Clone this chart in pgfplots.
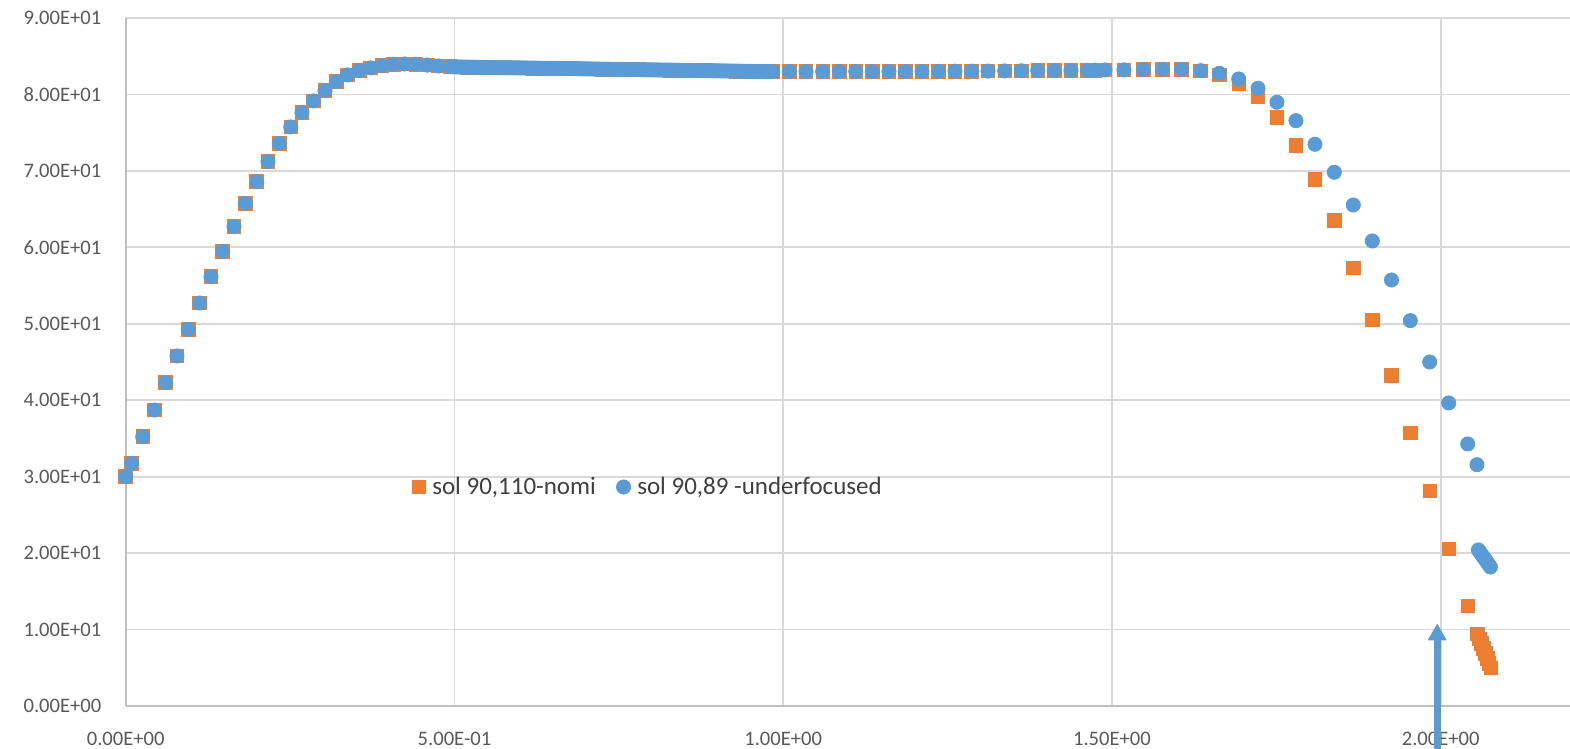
\documentclass[border=0pt]{standalone}
\usepackage{pgfplots}
\pgfplotsset{compat=1.18}
\usepackage{pgfplotstable}
\usepackage{fontspec}
\setmainfont{Carlito}
\usetikzlibrary{arrows.meta}
\definecolor{xlorange}{HTML}{ED7D31}
\definecolor{xlblue}{HTML}{5B9BD5}
\definecolor{xlgrid}{HTML}{D9D9D9}
\definecolor{xlaxis}{HTML}{BFBFBF}
\definecolor{xltext}{HTML}{595959}
\definecolor{xllegend}{HTML}{404040}

% points shared by both series (they coincide)
\pgfplotstableread{
x y
0.0000 30.00
0.0091 31.75
0.0259 35.23
0.0435 38.72
0.0608 42.30
0.0780 45.79
0.0952 49.28
0.1125 52.72
0.1297 56.16
0.1475 59.49
0.1647 62.70
0.1819 65.76
0.1992 68.59
0.2164 71.21
0.2336 73.61
0.2510 75.75
0.2681 77.62
0.2853 79.15
0.3031 80.50
0.3203 81.67
0.3376 82.55
0.3553 83.11
0.3726 83.48
0.3898 83.77
0.4070 83.95
0.4243 83.99
0.4415 83.95
0.4587 83.84
0.4760 83.72
0.4932 83.63
0.500 83.600
0.504 83.595
0.508 83.590
0.512 83.585
0.516 83.580
0.520 83.574
0.524 83.569
0.528 83.564
0.532 83.559
0.536 83.554
0.540 83.549
0.544 83.544
0.548 83.539
0.552 83.533
0.556 83.528
0.560 83.523
0.564 83.518
0.568 83.513
0.572 83.508
0.576 83.503
0.580 83.498
0.584 83.492
0.588 83.487
0.592 83.482
0.596 83.477
0.600 83.472
0.604 83.467
0.608 83.462
0.612 83.457
0.616 83.451
0.620 83.446
0.624 83.441
0.628 83.436
0.632 83.431
0.636 83.426
0.640 83.421
0.644 83.416
0.648 83.410
0.652 83.405
0.656 83.400
0.660 83.395
0.664 83.390
0.668 83.385
0.672 83.380
0.676 83.375
0.680 83.369
0.684 83.364
0.688 83.359
0.692 83.354
0.696 83.349
0.700 83.344
0.704 83.339
0.708 83.334
0.712 83.328
0.716 83.323
0.720 83.318
0.724 83.313
0.728 83.308
0.732 83.303
0.736 83.298
0.740 83.293
0.744 83.287
0.748 83.282
0.752 83.277
0.756 83.272
0.760 83.267
0.764 83.262
0.768 83.257
0.772 83.252
0.776 83.246
0.780 83.241
0.784 83.236
0.788 83.231
0.792 83.226
0.796 83.221
0.800 83.216
0.804 83.211
0.808 83.205
0.812 83.200
0.816 83.195
0.820 83.190
0.824 83.185
0.828 83.180
0.832 83.175
0.836 83.170
0.840 83.164
0.844 83.159
0.848 83.154
0.852 83.149
0.856 83.144
0.860 83.139
0.864 83.134
0.868 83.129
0.872 83.123
0.876 83.118
0.880 83.113
0.884 83.108
0.888 83.103
0.892 83.098
0.896 83.093
0.900 83.088
0.904 83.082
0.908 83.077
0.912 83.072
0.916 83.067
0.920 83.062
0.924 83.057
0.928 83.052
0.932 83.047
0.936 83.041
0.940 83.036
0.944 83.031
0.948 83.026
0.952 83.021
0.956 83.016
0.960 83.011
0.964 83.005
0.968 83.000
0.972 82.995
0.976 82.990
0.980 82.985
0.984 82.980
1.0093 83.00
1.0347 82.99
1.0601 82.99
1.0853 82.99
1.1103 83.00
1.1355 83.00
1.1609 83.01
1.1857 83.01
1.2111 83.02
1.2365 83.03
1.2613 83.04
1.2867 83.05
1.3115 83.06
1.3369 83.08
1.3621 83.09
1.3871 83.11
1.4123 83.13
1.4377 83.15
1.4631 83.17
1.4742 83.18
1.4894 83.20
1.5183 83.21
1.5477 83.27
1.5772 83.29
1.6061 83.29
}\shared

\pgfplotstableread{
x y
1.6350 83.07
1.6633 82.55
1.6928 81.46
1.7222 79.71
1.7510 76.96
1.7799 73.35
1.8088 68.90
1.8382 63.49
1.8671 57.30
1.8960 50.50
1.9252 43.21
1.9538 35.71
1.9833 28.13
2.0122 20.54
2.0411 13.08
2.0558 9.42
2.0588 8.78
2.0617 8.15
2.0647 7.51
2.0676 6.88
2.0706 6.24
2.0735 5.61
2.0765 4.97
}\orangeend

\pgfplotstableread{
x y
1.6350 83.11
1.6633 82.77
1.6928 82.03
1.7222 80.81
1.7510 78.98
1.7799 76.57
1.8088 73.48
1.8382 69.82
1.8671 65.54
1.8960 60.83
1.9252 55.73
1.9538 50.41
1.9833 45.00
2.0122 39.64
2.0411 34.28
2.0552 31.57
2.0574 20.41
2.0600 20.09
2.0626 19.77
2.0653 19.45
2.0679 19.14
2.0705 18.82
2.0731 18.50
2.0757 18.18
}\blueend

\begin{document}
\begin{tikzpicture}
\begin{axis}[
  scale only axis,
  width=722.15pt, height=344pt,
  xmin=0, xmax=2.1967, ymin=0, ymax=90,
  axis x line*=bottom, axis y line*=left,
  axis line style={draw=xlaxis, line width=1.1pt},
  xtick={0,0.5,1,1.5,2},
  xticklabels={0.00E+00,5.00E-01,1.00E+00,1.50E+00,2.00E+00},
  ytick={0,10,20,30,40,50,60,70,80,90},
  yticklabels={0.00E+00,1.00E+01,2.00E+01,3.00E+01,4.00E+01,5.00E+01,6.00E+01,7.00E+01,8.00E+01,9.00E+01},
  major tick length=0pt,
  grid=major,
  major grid style={draw=xlgrid, line width=0.9pt},
  tick label style={font=\fontsize{10.3}{12}\selectfont, text=xltext},
  yticklabel style={anchor=east, inner sep=0pt, xshift=-12pt},
  xticklabel style={anchor=north, inner sep=0pt, yshift=-13pt},
  clip=false,
  legend columns=-1,
  legend style={draw=none, fill=none, at={(0.198,0.3183)}, anchor=west,
    font=\fontsize{12.5}{14}\selectfont, text=xllegend, inner sep=0pt,
    nodes={inner xsep=3.3pt, inner ysep=0pt},
    /tikz/every even column/.append style={column sep=7pt}},
  legend image code/.code={\draw[#1] plot coordinates {(0pt,0pt)};},
  osq/.style={xlorange, only marks, mark=square*, mark size=3.4pt, mark options={line width=0.4pt}},
  bci/.style={xlblue, only marks, mark=*, mark size=3.55pt, mark options={line width=0.4pt}},
]
\addplot[osq] table[x=x, y=y] {\shared};
\addlegendentry{sol 90,110-nomi}
\addplot[osq, forget plot] table[x=x, y=y] {\orangeend};
\addplot[bci] table[x=x, y=y] {\shared};
\addlegendentry{sol 90,89 -underfocused}
\addplot[bci, forget plot] table[x=x, y=y] {\blueend};
\draw[xlblue, line width=3.65pt, -{Triangle[width=8.85pt,length=8.5pt]}]
  (axis cs:1.9947,-8) -- (axis cs:1.9947,10.82);
\coordinate (BL) at (rel axis cs:0,0);
\coordinate (TR) at (rel axis cs:1,1);
\end{axis}
\pgfresetboundingbox
\path[use as bounding box] ([shift={(-62.85pt,-21.5pt)}]BL) rectangle ([shift={(0pt,9pt)}]TR);
\end{tikzpicture}
\end{document}
